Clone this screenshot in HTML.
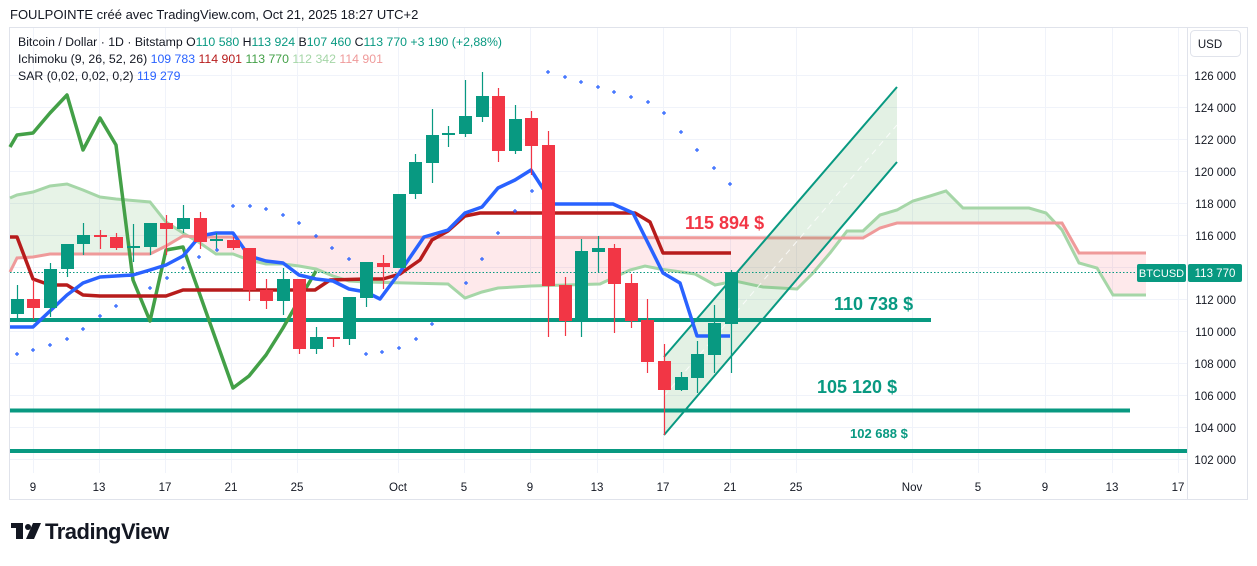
<!DOCTYPE html>
<html><head><meta charset="utf-8"><style>
html,body{margin:0;padding:0;background:#fff;}
body{width:1257px;height:561px;overflow:hidden;font-family:"Liberation Sans",sans-serif;}
</style></head><body>
<svg width="1257" height="561" xmlns="http://www.w3.org/2000/svg" font-family="Liberation Sans, sans-serif">
<defs>
<clipPath id="above"><polygon points="10,272 17,258 33,257 50,254 150,254 166,246 183,236 200,237 863,238 880,228 897,223 1062,223 1079,253 1146,253 1146,0 10,0"/></clipPath>
<clipPath id="below"><polygon points="10,272 17,258 33,257 50,254 150,254 166,246 183,236 200,237 863,238 880,228 897,223 1062,223 1079,253 1146,253 1146,500 10,500"/></clipPath>
</defs>
<text x="10" y="19" font-size="13" fill="#131722">FOULPOINTE créé avec TradingView.com, Oct 21, 2025 18:27 UTC+2</text>
<rect x="9.5" y="27.5" width="1238" height="472" fill="none" stroke="#e0e3eb"/>
<line x1="1187.5" y1="28" x2="1187.5" y2="500" stroke="#e0e3eb"/>
<g stroke="#f0f3fa" stroke-width="1">
<line x1="10" y1="75.5" x2="1187" y2="75.5"/><line x1="10" y1="107.5" x2="1187" y2="107.5"/><line x1="10" y1="139.5" x2="1187" y2="139.5"/><line x1="10" y1="171.5" x2="1187" y2="171.5"/><line x1="10" y1="203.5" x2="1187" y2="203.5"/><line x1="10" y1="235.5" x2="1187" y2="235.5"/><line x1="10" y1="267.5" x2="1187" y2="267.5"/><line x1="10" y1="299.5" x2="1187" y2="299.5"/><line x1="10" y1="331.5" x2="1187" y2="331.5"/><line x1="10" y1="363.5" x2="1187" y2="363.5"/><line x1="10" y1="395.5" x2="1187" y2="395.5"/><line x1="10" y1="427.5" x2="1187" y2="427.5"/><line x1="10" y1="459.5" x2="1187" y2="459.5"/>
<line x1="33.5" y1="28" x2="33.5" y2="473"/><line x1="99.5" y1="28" x2="99.5" y2="473"/><line x1="165.5" y1="28" x2="165.5" y2="473"/><line x1="231.5" y1="28" x2="231.5" y2="473"/><line x1="297.5" y1="28" x2="297.5" y2="473"/><line x1="398.5" y1="28" x2="398.5" y2="473"/><line x1="464.5" y1="28" x2="464.5" y2="473"/><line x1="530.5" y1="28" x2="530.5" y2="473"/><line x1="597.5" y1="28" x2="597.5" y2="473"/><line x1="663.5" y1="28" x2="663.5" y2="473"/><line x1="730.5" y1="28" x2="730.5" y2="473"/><line x1="796.5" y1="28" x2="796.5" y2="473"/><line x1="912.5" y1="28" x2="912.5" y2="473"/><line x1="978.5" y1="28" x2="978.5" y2="473"/><line x1="1045.5" y1="28" x2="1045.5" y2="473"/><line x1="1112.5" y1="28" x2="1112.5" y2="473"/><line x1="1178.5" y1="28" x2="1178.5" y2="473"/>
</g>
<g>
<polygon clip-path="url(#above)" fill="#43a047" fill-opacity="0.13" points="10,198 17,195 33,192 50,186 67,184 83,190 100,197 116,199 150,202 166,222 183,233 200,243 216,254 233,254 249,260 266,264 283,264 299,266 316,269 333,276 349,281 366,282 448,284 465,298 482,292 498,288 531,286 600,284 615,277 630,270 645,266 660,269 695,274 715,285 735,281 763,287 797,289 813,273 830,253 847,231 863,231 880,215 897,210 913,201 930,196 946,191 963,208 1029,208 1046,213 1062,230 1079,263 1097,268 1113,295 1146,295 1146,253 1079,253 1062,223 897,223 880,228 863,238 200,237 183,236 166,246 150,254 50,254 33,257 17,258 10,272"/>
<polygon clip-path="url(#below)" fill="#f23645" fill-opacity="0.11" points="10,198 17,195 33,192 50,186 67,184 83,190 100,197 116,199 150,202 166,222 183,233 200,243 216,254 233,254 249,260 266,264 283,264 299,266 316,269 333,276 349,281 366,282 448,284 465,298 482,292 498,288 531,286 600,284 615,277 630,270 645,266 660,269 695,274 715,285 735,281 763,287 797,289 813,273 830,253 847,231 863,231 880,215 897,210 913,201 930,196 946,191 963,208 1029,208 1046,213 1062,230 1079,263 1097,268 1113,295 1146,295 1146,253 1079,253 1062,223 897,223 880,228 863,238 200,237 183,236 166,246 150,254 50,254 33,257 17,258 10,272"/>
<polyline fill="none" stroke="#a5d6a7" stroke-width="3" points="10,198 17,195 33,192 50,186 67,184 83,190 100,197 116,199 150,202 166,222 183,233 200,243 216,254 233,254 249,260 266,264 283,264 299,266 316,269 333,276 349,281 366,282 448,284 465,298 482,292 498,288 531,286 600,284 615,277 630,270 645,266 660,269 695,274 715,285 735,281 763,287 797,289 813,273 830,253 847,231 863,231 880,215 897,210 913,201 930,196 946,191 963,208 1029,208 1046,213 1062,230 1079,263 1097,268 1113,295 1146,295"/>
<polyline fill="none" stroke="#ef9a9a" stroke-width="3" points="10,272 17,258 33,257 50,254 150,254 166,246 183,236 200,237 863,238 880,228 897,223 1062,223 1079,253 1146,253"/>
</g>
<polygon points="664,357 897,87 897,162 664,435" fill="#43a047" fill-opacity="0.15"/>
<line x1="664" y1="396" x2="897" y2="125" stroke="#fff" stroke-opacity="0.8" stroke-dasharray="6,5"/>
<line x1="664" y1="357" x2="897" y2="87" stroke="#089981" stroke-width="2"/>
<line x1="664" y1="435" x2="897" y2="162" stroke="#089981" stroke-width="2"/>
<line x1="10" y1="320" x2="931" y2="320" stroke="#089981" stroke-width="4"/>
<line x1="10" y1="410.5" x2="1130" y2="410.5" stroke="#089981" stroke-width="4"/>
<line x1="10" y1="451" x2="1187" y2="451" stroke="#089981" stroke-width="4"/>
<line x1="10" y1="272.5" x2="1135" y2="272.5" stroke="#089981" stroke-dasharray="1.5,2"/>
<polyline fill="none" stroke="#43a047" stroke-width="3.5" stroke-linejoin="round" points="10,147 17,135 33,133 50,113 67,95 83,150 100,118 116,145 133,280 150,321 166,250 183,247 233,388 249,376 266,355 283,328 299,300 316,271"/>
<polyline fill="none" stroke="#b71c1c" stroke-width="3.5" stroke-linejoin="round" points="10,237 17,237 33,279 50,285 67,285 83,295 100,296 166,296 183,290 315,290 330,280 366,279 383,279 400,274 420,260 432,240 448,231 465,216 480,213 635,213 650,222 663,253 731,253"/>
<polyline fill="none" stroke="#2962ff" stroke-width="3.5" stroke-linejoin="round" points="10,327 33,327 67,295 83,283 100,277 133,275 150,270 166,265 183,256 200,236 216,233 233,233 249,256 266,261 283,263 299,275 316,279 333,281 349,289 366,292 380,299 400,272 424,237 448,230 465,213 482,207 498,188 515,180 531,170 553,204 613,204 633,213 663,273 680,283 697,336 730,336"/>
<g stroke-width="1.2">
<g fill="#089981" stroke="#089981">
<line x1="17.5" y1="285" x2="17.5" y2="318"/><rect x="11" y="299" width="13" height="15" stroke="none"/>
<line x1="50.5" y1="263" x2="50.5" y2="317"/><rect x="44" y="269" width="13" height="39" stroke="none"/>
<line x1="67.5" y1="244" x2="67.5" y2="277"/><rect x="61" y="244" width="13" height="25" stroke="none"/>
<line x1="83.5" y1="223" x2="83.5" y2="255"/><rect x="77" y="235" width="13" height="9" stroke="none"/>
<line x1="133.5" y1="224" x2="133.5" y2="262"/><rect x="127" y="246" width="13" height="2" stroke="none"/>
<line x1="150.5" y1="223" x2="150.5" y2="255"/><rect x="144" y="223" width="13" height="24" stroke="none"/>
<line x1="183.5" y1="205" x2="183.5" y2="233"/><rect x="177" y="218" width="13" height="11" stroke="none"/>
<line x1="216.5" y1="233" x2="216.5" y2="249"/><rect x="210" y="239" width="13" height="2" stroke="none"/>
<line x1="283.5" y1="268" x2="283.5" y2="315"/><rect x="277" y="279" width="13" height="22" stroke="none"/>
<line x1="316.5" y1="327" x2="316.5" y2="354"/><rect x="310" y="337" width="13" height="12" stroke="none"/>
<line x1="349.5" y1="297" x2="349.5" y2="345"/><rect x="343" y="297" width="13" height="42" stroke="none"/>
<line x1="366.5" y1="262" x2="366.5" y2="307"/><rect x="360" y="262" width="13" height="36" stroke="none"/>
<line x1="399.5" y1="194" x2="399.5" y2="268"/><rect x="393" y="194" width="13" height="74" stroke="none"/>
<line x1="415.5" y1="154" x2="415.5" y2="199"/><rect x="409" y="162" width="13" height="32" stroke="none"/>
<line x1="432.5" y1="109" x2="432.5" y2="183"/><rect x="426" y="135" width="13" height="28" stroke="none"/>
<line x1="448.5" y1="126" x2="448.5" y2="147"/><rect x="442" y="133" width="13" height="2" stroke="none"/>
<line x1="465.5" y1="80" x2="465.5" y2="137"/><rect x="459" y="116" width="13" height="18" stroke="none"/>
<line x1="482.5" y1="72" x2="482.5" y2="122"/><rect x="476" y="96" width="13" height="21" stroke="none"/>
<line x1="515.5" y1="105" x2="515.5" y2="154"/><rect x="509" y="119" width="13" height="32" stroke="none"/>
<line x1="581.5" y1="239" x2="581.5" y2="337"/><rect x="575" y="251" width="13" height="69" stroke="none"/>
<line x1="598.5" y1="236" x2="598.5" y2="272"/><rect x="592" y="248" width="13" height="4" stroke="none"/>
<line x1="681.5" y1="372" x2="681.5" y2="391"/><rect x="675" y="377" width="13" height="13" stroke="none"/>
<line x1="697.5" y1="341" x2="697.5" y2="393"/><rect x="691" y="354" width="13" height="24" stroke="none"/>
<line x1="714.5" y1="305" x2="714.5" y2="373"/><rect x="708" y="323" width="13" height="32" stroke="none"/>
<line x1="731.5" y1="270" x2="731.5" y2="373"/><rect x="725" y="272" width="13" height="52" stroke="none"/>
</g>
<g fill="#f23645" stroke="#f23645">
<line x1="33.5" y1="280" x2="33.5" y2="319"/><rect x="27" y="299" width="13" height="9" stroke="none"/>
<line x1="100.5" y1="230" x2="100.5" y2="249"/><rect x="94" y="235" width="13" height="2" stroke="none"/>
<line x1="116.5" y1="233" x2="116.5" y2="250"/><rect x="110" y="237" width="13" height="11" stroke="none"/>
<line x1="166.5" y1="215" x2="166.5" y2="255"/><rect x="160" y="223" width="13" height="6" stroke="none"/>
<line x1="200.5" y1="212" x2="200.5" y2="249"/><rect x="194" y="218" width="13" height="24" stroke="none"/>
<line x1="233.5" y1="237" x2="233.5" y2="250"/><rect x="227" y="240" width="13" height="8" stroke="none"/>
<line x1="249.5" y1="248" x2="249.5" y2="301"/><rect x="243" y="248" width="13" height="42" stroke="none"/>
<line x1="266.5" y1="279" x2="266.5" y2="309"/><rect x="260" y="290" width="13" height="11" stroke="none"/>
<line x1="299.5" y1="279" x2="299.5" y2="354"/><rect x="293" y="279" width="13" height="70" stroke="none"/>
<line x1="333.5" y1="337" x2="333.5" y2="347"/><rect x="327" y="337" width="13" height="2" stroke="none"/>
<line x1="383.5" y1="255" x2="383.5" y2="289"/><rect x="377" y="263" width="13" height="4" stroke="none"/>
<line x1="498.5" y1="88" x2="498.5" y2="162"/><rect x="492" y="96" width="13" height="55" stroke="none"/>
<line x1="531.5" y1="111" x2="531.5" y2="175"/><rect x="525" y="118" width="13" height="28" stroke="none"/>
<line x1="548.5" y1="131" x2="548.5" y2="337"/><rect x="542" y="145" width="13" height="141" stroke="none"/>
<line x1="565.5" y1="277" x2="565.5" y2="336"/><rect x="559" y="285" width="13" height="36" stroke="none"/>
<line x1="614.5" y1="244" x2="614.5" y2="333"/><rect x="608" y="248" width="13" height="36" stroke="none"/>
<line x1="631.5" y1="274" x2="631.5" y2="328"/><rect x="625" y="283" width="13" height="38" stroke="none"/>
<line x1="647.5" y1="299" x2="647.5" y2="373"/><rect x="641" y="320" width="13" height="42" stroke="none"/>
<line x1="664.5" y1="344" x2="664.5" y2="435"/><rect x="658" y="361" width="13" height="29" stroke="none"/>
</g>
</g>
<g fill="none" stroke="#2962ff" stroke-width="1.2">
<path d="M15 354h4M17 352v4M31 350h4M33 348v4M48 345h4M50 343v4M65 339h4M67 337v4M81 329h4M83 327v4M98 316h4M100 314v4M114 306h4M116 304v4M148 288h4M150 286v4M165 278h4M167 276v4M181 268h4M183 266v4M197 257h4M199 255v4M215 250h4M217 248v4M231 206h4M233 204v4M248 206h4M250 204v4M264 209h4M266 207v4M281 215h4M283 213v4M297 223h4M299 221v4M314 236h4M316 234v4M330 248h4M332 246v4M347 259h4M349 257v4M364 354h4M366 352v4M380 352h4M382 350v4M397 348h4M399 346v4M414 339h4M416 337v4M430 324h4M432 322v4M464 283h4M466 281v4M480 259h4M482 257v4M496 233h4M498 231v4M513 211h4M515 209v4M530 191h4M532 189v4M546 72h4M548 70v4M563 77h4M565 75v4M579 82h4M581 80v4M596 87h4M598 85v4M612 92h4M614 90v4M629 97h4M631 95v4M646 102h4M648 100v4M662 113h4M664 111v4M679 132h4M681 130v4M695 150h4M697 148v4M712 168h4M714 166v4M728 184h4M730 182v4"/>
</g>
<text x="685" y="229" font-size="18" font-weight="bold" fill="#f23645">115 894 $</text>
<text x="834" y="310" font-size="18" font-weight="bold" fill="#089981">110 738 $</text>
<text x="817" y="393" font-size="18" font-weight="bold" fill="#089981">105 120 $</text>
<text x="850" y="438" font-size="13" font-weight="bold" fill="#089981">102 688 $</text>
<g font-size="12.3" fill="#131722">
<text x="18" y="46">Bitcoin / Dollar · 1D · Bitstamp  O<tspan fill="#089981">110 580</tspan>  H<tspan fill="#089981">113 924</tspan>  B<tspan fill="#089981">107 460</tspan>  C<tspan fill="#089981">113 770  +3 190 (+2,88%)</tspan></text>
<text x="18" y="63">Ichimoku (9, 26, 52, 26) <tspan fill="#2962ff"> 109 783 </tspan><tspan fill="#b71c1c"> 114 901 </tspan><tspan fill="#43a047"> 113 770 </tspan><tspan fill="#a5d6a7"> 112 342 </tspan><tspan fill="#ef9a9a"> 114 901</tspan></text>
<text x="18" y="80">SAR (0,02, 0,02, 0,2) <tspan fill="#2962ff"> 119 279</tspan></text>
</g>
<g font-size="11.5" fill="#131722" text-anchor="end">
<text x="1236" y="80">126 000</text><text x="1236" y="112">124 000</text><text x="1236" y="144">122 000</text><text x="1236" y="176">120 000</text><text x="1236" y="208">118 000</text><text x="1236" y="240">116 000</text><text x="1236" y="304">112 000</text><text x="1236" y="336">110 000</text><text x="1236" y="368">108 000</text><text x="1236" y="400">106 000</text><text x="1236" y="432">104 000</text><text x="1236" y="464">102 000</text>
</g>
<rect x="1190.5" y="30.5" width="50" height="26" rx="4" fill="#fff" stroke="#e0e3eb"/>
<text x="1210" y="48" font-size="11.5" fill="#131722" text-anchor="middle">USD</text>
<rect x="1137" y="264" width="49" height="18" rx="2" fill="#089981"/>
<text x="1161.5" y="277" font-size="11" fill="#fff" text-anchor="middle">BTCUSD</text>
<rect x="1188" y="264" width="54" height="18" rx="2" fill="#089981"/>
<text x="1215" y="277" font-size="11.5" fill="#fff" text-anchor="middle">113 770</text>
<g font-size="11.5" fill="#131722" text-anchor="middle">
<text x="33" y="491">9</text><text x="99" y="491">13</text><text x="165" y="491">17</text><text x="231" y="491">21</text><text x="297" y="491">25</text><text x="398" y="491">Oct</text><text x="464" y="491">5</text><text x="530" y="491">9</text><text x="597" y="491">13</text><text x="663" y="491">17</text><text x="730" y="491">21</text><text x="796" y="491">25</text><text x="912" y="491">Nov</text><text x="978" y="491">5</text><text x="1045" y="491">9</text><text x="1112" y="491">13</text><text x="1178" y="491">17</text>
</g>
<g fill="#131722">
<rect x="11" y="523" width="12" height="5"/><rect x="16" y="523" width="7" height="16"/>
<circle cx="28" cy="527" r="3"/><polygon points="33,523 41,523 34,539 26,539"/>
<text x="45" y="539" font-size="22" font-weight="bold" letter-spacing="-0.5">TradingView</text>
</g>
</svg>
</body></html>
